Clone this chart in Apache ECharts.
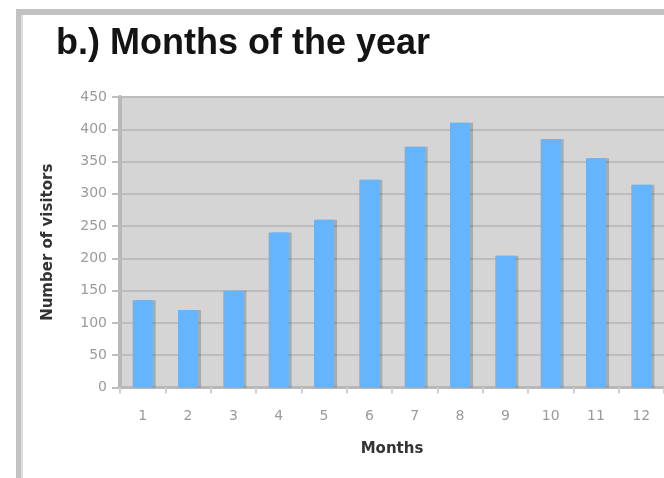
<!DOCTYPE html>
<html>
<head>
<meta charset="utf-8">
<script src="https://cdn.jsdelivr.net/npm/echarts@6/dist/echarts.min.js"></script>
<style>
html,body{margin:0;padding:0;background:#fff;}
#chart{width:664px;height:478px;}
</style>
</head>
<body>
<div id="chart"></div>
<script>
var titleText = 'b.) Months of the year';
var xAxisName = 'Months';
var yAxisName = 'Number of visitors';
var months = ['1','2','3','4','5','6','7','8','9','10','11','12'];
var visitors = [135, 120, 150, 240, 260, 322, 373, 410, 204, 385, 355, 314];
var yMin = 0, yMax = 450, yStep = 50;

var chart = echarts.init(document.getElementById('chart'), null, {renderer:'canvas'});
chart.setOption({
  animation: false,
  backgroundColor: '#ffffff',
  title: {
    text: titleText,
    left: 56,
    top: 26,
    padding: 0,
    textStyle: {fontFamily: 'Liberation Sans, Arial, sans-serif', fontWeight: 'bold', fontSize: 36, color: '#141414'}
  },
  graphic: [
    {type:'rect', shape:{x:16, y:9, width:660, height:6}, style:{fill:'#c2c2c2'}, silent:true},
    {type:'rect', shape:{x:16, y:9, width:5, height:480}, style:{fill:'#c2c2c2'}, silent:true},
    {type:'rect', shape:{x:21, y:15, width:2, height:470}, style:{fill:'#dedede'}, silent:true}
  ],
  grid: {
    left: 120, top: 97, width: 548, bottom: 90.5,
    show: true, backgroundColor: '#d5d5d5', borderWidth: 0
  },
  xAxis: {
    type: 'category',
    data: months,
    name: xAxisName,
    nameLocation: 'middle',
    nameGap: 54,
    nameTextStyle: {fontFamily: 'DejaVu Sans', fontWeight: 'bold', fontSize: 15, color: '#333333'},
    axisLine: {show: true, lineStyle: {color: '#b8b8b8', width: 3}},
    axisTick: {show: true, alignWithLabel: false, length: 6, lineStyle: {color: '#cfcfcf', width: 2}},
    axisLabel: {margin: 22, fontFamily: 'DejaVu Sans', fontSize: 14, color: '#9a9a9a'},
    splitLine: {show: false}
  },
  yAxis: {
    type: 'value',
    min: yMin, max: yMax, interval: yStep,
    name: yAxisName,
    nameLocation: 'middle',
    nameRotate: 90,
    nameGap: 64,
    nameTextStyle: {fontFamily: 'DejaVu Sans', fontWeight: 'bold', fontSize: 15, color: '#333333'},
    axisLine: {show: true, lineStyle: {color: '#b8b8b8', width: 4}},
    axisTick: {show: true, length: 8, lineStyle: {color: '#bdbdbd', width: 2}},
    axisLabel: {margin: 13, fontFamily: 'DejaVu Sans', fontSize: 14, color: '#9a9a9a'},
    splitLine: {show: true, lineStyle: {color: '#bdbdbd', width: 2}}
  },
  series: [{
    type: 'bar',
    data: visitors,
    barWidth: 20,
    itemStyle: {
      color: '#64b5fd',
      shadowColor: 'rgba(0,0,0,0.2)',
      shadowOffsetX: 3,
      shadowOffsetY: 0,
      shadowBlur: 0
    }
  }]
});
</script>
</body>
</html>
